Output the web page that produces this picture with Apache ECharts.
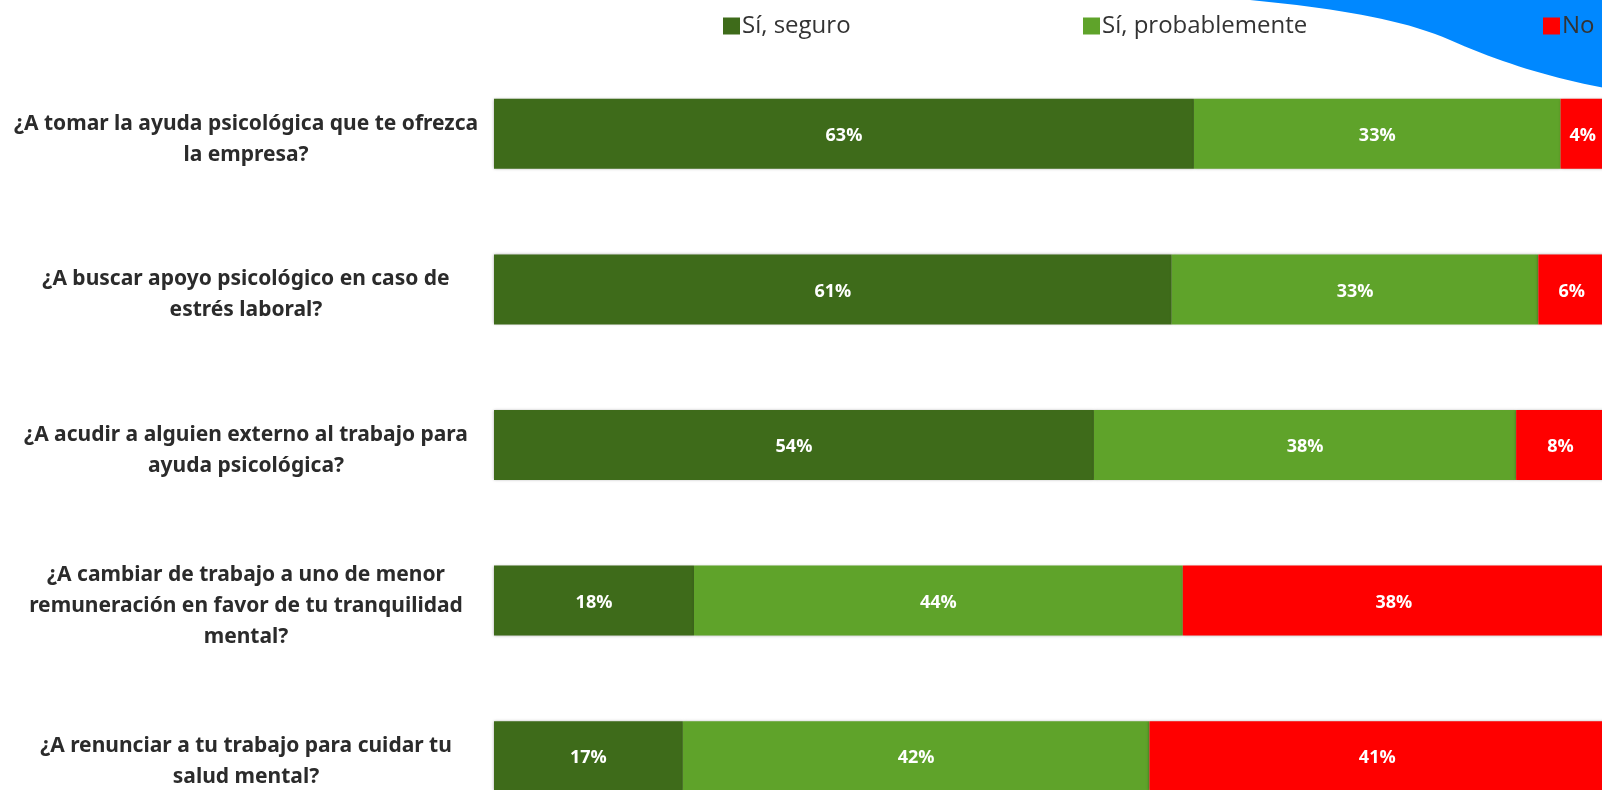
<!DOCTYPE html>
<html>
<head>
<meta charset="utf-8">
<script src="https://cdn.jsdelivr.net/npm/echarts@6/dist/echarts.min.js"></script>
<style>html,body{margin:0;padding:0;background:#fff;overflow:hidden;width:1602px;height:790px;}#c{width:1610px;height:850px;}</style>
</head>
<body>
<div id="c"></div>
<script>
const categories = [
  "¿A tomar la ayuda psicológica que te ofrezca\nla empresa?",
  "¿A buscar apoyo psicológico en caso de\nestrés laboral?",
  "¿A acudir a alguien externo al trabajo para\nayuda psicológica?",
  "¿A cambiar de trabajo a uno de menor\nremuneración en favor de tu tranquilidad\nmental?",
  "¿A renunciar a tu trabajo para cuidar tu\nsalud mental?"
];
const seriesNames = ["Sí, seguro", "Sí, probablemente", "No"];
const siSeguro = [63, 61, 54, 18, 17];
const siProbablemente = [33, 33, 38, 44, 42];
const no = [4, 6, 8, 38, 41];

const colors = ["#3e6b1a", "#5fa32a", "#ff0000"];
const values = [siSeguro, siProbablemente, no];

// decorative blue wave in the top-right corner
function cubic(p0, p1, p2, p3, n) {
  const pts = [];
  for (let i = 0; i <= n; i++) {
    const t = i / n, u = 1 - t;
    pts.push([
      u*u*u*p0[0] + 3*u*u*t*p1[0] + 3*u*t*t*p2[0] + t*t*t*p3[0],
      u*u*u*p0[1] + 3*u*u*t*p1[1] + 3*u*t*t*p2[1] + t*t*t*p3[1]
    ]);
  }
  return pts;
}
const wave = cubic([1250, 0], [1330, 8], [1400, 18], [1450, 40], 20)
  .concat(cubic([1450, 40], [1500, 62], [1550, 78], [1610, 89], 20).slice(1));
wave.push([1610, 0]);

const chart = echarts.init(document.getElementById('c'));
const legendBase = {
  orient: 'horizontal', top: 14, padding: 0, itemWidth: 17, itemHeight: 17, itemGap: 0,
  icon: 'rect',
  textStyle: { fontFamily: 'Open Sans', fontSize: 24, color: '#333333', padding: [0, 0, 0, -3] }
};
const labelText = { fontFamily: 'Noto Sans', fontWeight: 'bold', fontSize: 21, lineHeight: 31, color: '#2b2b2b', align: 'center' };
chart.setOption({
  animation: false,
  backgroundColor: '#ffffff',
  graphic: [{
    type: 'polygon', z: -1, silent: true,
    shape: { points: wave },
    style: { fill: '#0088ff' }
  }],
  legend: [
    Object.assign({}, legendBase, { left: 723, data: [seriesNames[0]] }),
    Object.assign({}, legendBase, { left: 1083, data: [seriesNames[1]] }),
    Object.assign({}, legendBase, { left: 1543, data: [seriesNames[2]] })
  ],
  grid: { left: 494, top: 56, width: 1111, height: 778, containLabel: false },
  xAxis: { type: 'value', min: 0, max: 100, show: false },
  yAxis: {
    type: 'category', inverse: true, data: categories,
    axisLine: { show: false }, axisTick: { show: false },
    axisLabel: {
      align: 'center', margin: 248,
      formatter: v => '{s|}\n' + v.split('\n').map(l => '{t|' + l + '}').join('\n'),
      rich: { s: { lineHeight: 11, fontSize: 1 }, t: labelText },
      fontFamily: 'Noto Sans', fontWeight: 'bold', fontSize: 21, lineHeight: 31, color: '#2b2b2b'
    }
  },
  series: seriesNames.map((name, i) => ({
    name: name, type: 'bar', stack: 'total',
    barCategoryGap: '55%',
    data: values[i],
    itemStyle: { color: colors[i], shadowColor: 'rgba(0,0,0,0.35)', shadowBlur: 3, shadowOffsetY: 0 },
    label: {
      show: true, position: 'inside', formatter: '{c}%', offset: [0, 2],
      color: '#ffffff', fontFamily: 'Open Sans', fontWeight: 'bold', fontSize: 18
    }
  }))
});
</script>
</body>
</html>
